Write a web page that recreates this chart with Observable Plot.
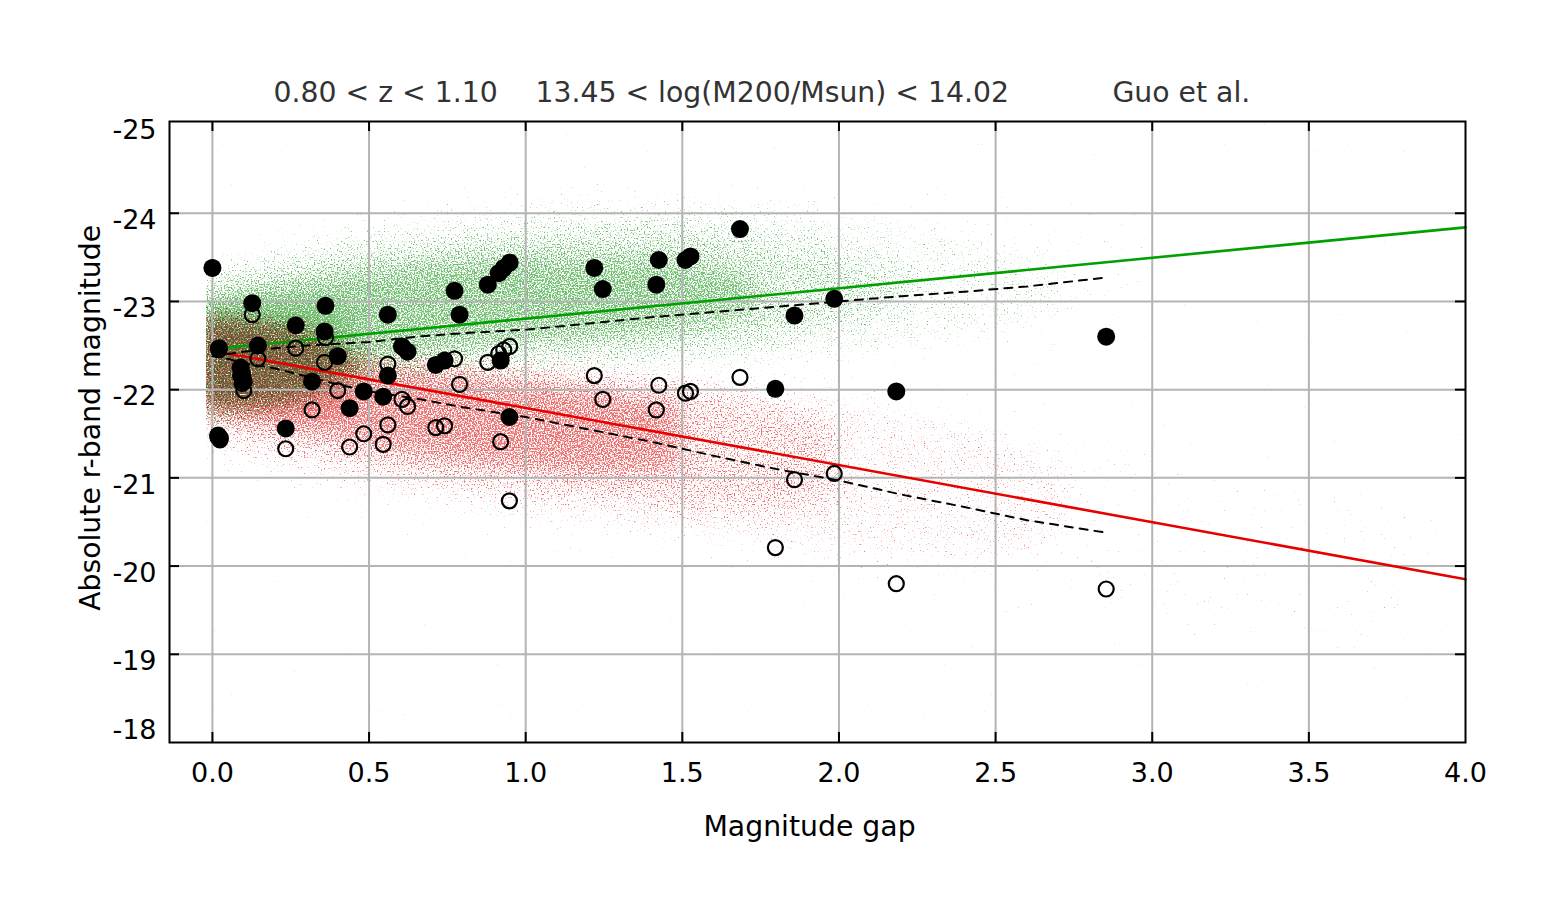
<!DOCTYPE html>
<html>
<head>
<meta charset="utf-8">
<script src="https://cdn.jsdelivr.net/npm/d3@7"></script>
<script src="https://cdn.jsdelivr.net/npm/@observablehq/plot@0.6"></script>
<style>
  body { margin: 0; background: #fff; }
  #chart { width: 1562px; height: 920px; }
</style>
</head>
<body>
<div id="chart"></div>
<script>
// ---------- data ----------
const titleLeft = "0.80 < z < 1.10";
const titleMid = "13.45 < log(M200/Msun) < 14.02";
const titleRight = "Guo et al.";
const xLabel = "Magnitude gap";
const yLabel = "Absolute r-band magnitude";

const xTicks = [0, 0.5, 1.0, 1.5, 2.0, 2.5, 3.0, 3.5, 4.0];
const yTicks = [-25, -24, -23, -22, -21, -20, -19, -18];

// observed groups: magnitude gap, brightest (filled), second brightest (open)
const gap = [0.000, 0.021, 0.018, 0.024, 0.127, 0.090, 0.095, 0.100, 0.145, 0.234,
             0.266, 0.361, 0.358, 0.318, 0.400, 0.438, 0.483, 0.545, 0.560, 0.560,
             0.605, 0.623, 0.713, 0.741, 0.773, 0.789, 0.879, 0.914, 0.930, 0.949,
             0.920, 0.948, 1.219, 1.246, 1.425, 1.417, 1.510, 1.526, 1.684, 1.797,
             1.858, 1.985, 2.183, 2.853];
const magFirst = [-23.38, -22.47, -21.48, -21.45, -22.98, -22.25, -22.17, -22.09, -22.50, -21.56,
                  -22.73, -22.95, -22.66, -22.09, -22.38, -21.79, -21.98, -21.92, -22.85, -22.16,
                  -22.49, -22.43, -22.28, -22.33, -23.12, -22.85, -23.19, -23.32, -23.38, -23.44,
                  -22.33, -21.69, -23.38, -23.14, -23.47, -23.19, -23.47, -23.51, -23.82, -22.01,
                  -22.84, -23.03, -21.98, -22.60];
const magSecond = [-23.38, -22.45, -21.46, -21.43, -22.85, -22.16, -22.07, -21.99, -22.35, -21.33,
                   -22.47, -22.59, -22.31, -21.77, -21.99, -21.35, -21.50, -21.38, -22.29, -21.60,
                   -21.89, -21.81, -21.57, -21.59, -22.35, -22.06, -22.31, -22.41, -22.45, -22.49,
                   -21.41, -20.74, -22.16, -21.89, -22.05, -21.77, -21.96, -21.98, -22.14, -20.21,
                   -20.98, -21.05, -19.80, -19.74];

// linear fits
const fitX = [0, 4.0];
const greenFit = [-22.46, -23.84];
const redFit = [-22.44, -19.85];

// binned (dashed) curves
const dashX = [0, 0.1, 0.2, 0.3, 0.4, 0.5, 0.65, 0.8, 1.0, 1.2, 1.4, 1.6, 1.8, 2.0, 2.2, 2.4, 2.6, 2.85];
const dashUpper = [-22.38, -22.43, -22.47, -22.50, -22.52, -22.54, -22.60, -22.64, -22.68, -22.75,
                   -22.82, -22.88, -22.94, -23.00, -23.06, -23.11, -23.17, -23.27];
const dashLower = [-22.40, -22.30, -22.24, -22.15, -22.06, -21.98, -21.90, -21.80, -21.69, -21.55,
                   -21.41, -21.25, -21.10, -20.97, -20.81, -20.67, -20.52, -20.38];

// model clouds: band edges per gap station (faint / outer / mid / core / peak)
const greenX = [-0.06, 0.25, 0.5, 0.75, 1.0, 1.25, 1.5, 1.75, 2.0, 2.25, 2.5, 2.75, 3.0];
const greenFaintTop = [-23.55, -23.85, -24.05, -24.2, -24.3, -24.35, -24.35, -24.3, -24.25, -24.2, -24.1, -24.0, -23.9];
const greenFaintBot = [-21.35, -21.5, -21.75, -21.9, -21.95, -22.0, -22.05, -22.1, -22.2, -22.3, -22.4, -22.5, -22.6];
const greenOuterTop = [-23.4, -23.7, -23.9, -24.0, -24.1, -24.15, -24.15, -24.1, -24.0, -23.85, -23.65, -23.35];
const greenOuterBot = [-21.5, -21.65, -21.9, -22.0, -22.05, -22.1, -22.15, -22.25, -22.35, -22.5, -22.65, -22.9];
const greenMidTop = [-23.2, -23.45, -23.6, -23.7, -23.8, -23.85, -23.85, -23.75, -23.55, -23.25];
const greenMidBot = [-21.6, -21.75, -22.05, -22.2, -22.3, -22.35, -22.4, -22.5, -22.7, -23.0];
const greenCoreTop = [-23.0, -23.2, -23.35, -23.45, -23.5, -23.5, -23.45, -23.25];
const greenCoreBot = [-21.8, -21.9, -22.3, -22.45, -22.55, -22.6, -22.7, -22.9];
const greenPeakX = [-0.06, 0.15, 0.3, 0.45];
const greenPeakTop = [-22.95, -23.0, -23.0, -22.9];
const greenPeakBot = [-21.8, -21.8, -21.85, -22.1];

const redX = [-0.06, 0.25, 0.5, 0.75, 1.0, 1.25, 1.5, 1.75, 2.0, 2.25, 2.5, 2.75, 3.0, 3.5, 4.0];
const redFaintTop = [-23.05, -23.0, -22.85, -22.75, -22.65, -22.55, -22.45, -22.3, -22.2, -22.0, -21.8, -21.6, -21.4, -21.0, -20.6];
const redFaintBot = [-21.0, -20.7, -20.5, -20.35, -20.2, -20.1, -20.0, -19.85, -19.7, -19.6, -19.5, -19.4, -19.3, -19.1, -19.0];
const redOuterTop = [-22.95, -22.85, -22.6, -22.5, -22.4, -22.3, -22.2, -22.05, -21.9, -21.7, -21.5, -21.15];
const redOuterBot = [-21.3, -21.05, -20.85, -20.7, -20.55, -20.45, -20.35, -20.25, -20.15, -20.1, -20.1, -20.3];
const redMidTop = [-22.9, -22.8, -22.45, -22.35, -22.25, -22.15, -22.05, -21.9, -21.65];
const redMidBot = [-21.55, -21.3, -21.1, -20.95, -20.85, -20.75, -20.65, -20.6, -20.7];
const redCoreTop = [-22.85, -22.7, -22.3, -22.2, -22.1, -22.0, -21.85];
const redCoreBot = [-21.8, -21.55, -21.35, -21.2, -21.1, -21.05, -21.1];
const redPeakX = [-0.06, 0.15, 0.3, 0.45];
const redPeakTop = [-22.9, -22.85, -22.75, -22.5];
const redPeakBot = [-21.75, -21.7, -21.7, -21.8];

// ---------- layout / style ----------
const W = 1562, H = 920;
const mL = 169, mR = 97, mT = 121, mB = 178;
const frameW = W - mL - mR, frameH = H - mT - mB;
const tickLen = 10;
const GREEN = "#0a9a0a", RED = "#e61414";
const GREEN_LINE = "#00a000", RED_LINE = "#e60000";

const band = (xs, top, bot) => top.map((t, i) => ({x: xs[i], top: t, bot: bot[i]}));
const series = (xs, ys) => ys.map((y, i) => ({x: xs[i], y}));
const groups = gap.map((g, i) => ({gap: g, m1: magFirst[i], m2: magSecond[i]}));

const cloud = (xs, top, bot, color, op) =>
  Plot.areaY(band(xs, top, bot), {x: "x", y1: "bot", y2: "top", fill: color, fillOpacity: op, curve: "catmull-rom", clip: false});

const xInner = xTicks.filter(v => v < 4);
const yInner = yTicks.filter(v => v > -25 && v < -18);

const chart = Plot.plot({
  width: W, height: H,
  marginLeft: mL, marginRight: mR, marginTop: mT, marginBottom: mB,
  x: {domain: [-0.137, 4.0], axis: null},
  y: {domain: [-18, -25.04], axis: null},
  style: {fontFamily: "'DejaVu Sans', sans-serif", fontSize: "27px", background: "white", color: "black"},
  marks: [
    // model clouds (density layers)
    cloud(redX, redFaintTop, redFaintBot, RED, 0.07),
    cloud(redX, redOuterTop, redOuterBot, RED, 0.10),
    cloud(redX, redMidTop, redMidBot, RED, 0.13),
    cloud(redX, redCoreTop, redCoreBot, RED, 0.17),
    cloud(redPeakX, redPeakTop, redPeakBot, RED, 0.15),
    cloud(greenX, greenFaintTop, greenFaintBot, GREEN, 0.07),
    cloud(greenX, greenOuterTop, greenOuterBot, GREEN, 0.10),
    cloud(greenX, greenMidTop, greenMidBot, GREEN, 0.13),
    cloud(greenX, greenCoreTop, greenCoreBot, GREEN, 0.17),
    cloud(greenPeakX, greenPeakTop, greenPeakBot, GREEN, 0.15),
    // grid
    Plot.ruleX(xInner, {stroke: "#b4b4b4", strokeWidth: 2}),
    Plot.ruleY(yInner, {stroke: "#b4b4b4", strokeWidth: 2}),
    // inward ticks on all four sides
    Plot.tickX(xInner, {x: d => d, insetTop: frameH - tickLen, stroke: "black", strokeWidth: 2}),
    Plot.tickX(xInner, {x: d => d, insetBottom: frameH - tickLen, stroke: "black", strokeWidth: 2}),
    Plot.tickY(yInner, {y: d => d, insetRight: frameW - tickLen, stroke: "black", strokeWidth: 2}),
    Plot.tickY(yInner, {y: d => d, insetLeft: frameW - tickLen, stroke: "black", strokeWidth: 2}),
    // fits
    Plot.line(series(fitX, greenFit), {x: "x", y: "y", stroke: GREEN_LINE, strokeWidth: 2.6}),
    Plot.line(series(fitX, redFit), {x: "x", y: "y", stroke: RED_LINE, strokeWidth: 2.6}),
    // binned curves
    Plot.line(series(dashX, dashUpper), {x: "x", y: "y", stroke: "black", strokeWidth: 2, strokeDasharray: "8,7"}),
    Plot.line(series(dashX, dashLower), {x: "x", y: "y", stroke: "black", strokeWidth: 2, strokeDasharray: "8,7"}),
    // observed groups
    Plot.dot(groups, {x: "gap", y: "m1", r: 9, fill: "black", stroke: "none"}),
    Plot.dot(groups, {x: "gap", y: "m2", r: 7.5, fill: "none", stroke: "black", strokeWidth: 2.2}),
    // frame
    Plot.frame({stroke: "black", strokeWidth: 2}),
    // tick labels
    Plot.text(xTicks, {x: d => d, text: d => d3.format(".1f")(d), frameAnchor: "bottom", dy: 31, textAnchor: "middle", lineAnchor: "middle", fill: "black"}),
    Plot.text(yInner, {y: d => d, text: d => String(d), frameAnchor: "left", dx: -13, dy: 7, textAnchor: "end", lineAnchor: "middle", fill: "black"}),
    Plot.text([yTicks[0]], {y: d => d, text: d => String(d), frameAnchor: "left", dx: -13, dy: 5, textAnchor: "end", lineAnchor: "middle", fill: "black"}),
    Plot.text([yTicks[yTicks.length - 1]], {y: d => d, text: d => String(d), frameAnchor: "left", dx: -13, dy: -12, textAnchor: "end", lineAnchor: "middle", fill: "black"}),
    // axis labels
    Plot.text([xLabel], {x: 1.906, text: d => d, frameAnchor: "bottom", dy: 84, textAnchor: "middle", lineAnchor: "middle", fontSize: 28.3, fill: "black"}),
    Plot.text([yLabel], {y: -21.68, text: d => d, frameAnchor: "left", dx: -79, rotate: -90, textAnchor: "middle", lineAnchor: "middle", fontSize: 28.3, fill: "black"}),
    // title
    Plot.text([titleLeft], {x: 0.195, text: d => d, frameAnchor: "top", dy: -29, textAnchor: "start", lineAnchor: "middle", fontSize: 28.3, fill: "#333"}),
    Plot.text([titleMid], {x: 1.031, text: d => d, frameAnchor: "top", dy: -29, textAnchor: "start", lineAnchor: "middle", fontSize: 28.3, fill: "#333"}),
    Plot.text([titleRight], {x: 2.873, text: d => d, frameAnchor: "top", dy: -29, textAnchor: "start", lineAnchor: "middle", fontSize: 28.3, fill: "#333"})
  ]
});

// ---------- render the density layers as a speckled point cloud ----------
const NS = "http://www.w3.org/2000/svg";
const svg = d3.select(chart);
const defs = svg.insert("defs", ":first-child");
// clouds only exist for gap >= 0, inside the frame
const cloudLeft = chart.scale ? Math.round(chart.scale("x").apply(0)) - 6 : mL;
defs.append("clipPath").attr("id", "cloudClip")
  .append("rect").attr("x", cloudLeft).attr("y", mT).attr("width", W - mR - cloudLeft).attr("height", frameH);
function speckFilter(id, color, seed) {
  const K = 7, b = 0.30;
  const f = defs.append("filter").attr("id", id)
    .attr("filterUnits", "userSpaceOnUse").attr("x", 0).attr("y", 0).attr("width", W).attr("height", H)
    .attr("color-interpolation-filters", "sRGB");
  f.append("feGaussianBlur").attr("in", "SourceGraphic").attr("stdDeviation", 13).attr("result", "dens");
  f.append("feTurbulence").attr("type", "fractalNoise").attr("baseFrequency", 0.7)
    .attr("numOctaves", 1).attr("seed", seed).attr("result", "noise");
  f.append("feComposite").attr("in", "dens").attr("in2", "noise").attr("operator", "arithmetic")
    .attr("k1", 0).attr("k2", K).attr("k3", -K).attr("k4", K * (0.5 - b)).attr("result", "mask");
  f.append("feFlood").attr("flood-color", color).attr("flood-opacity", 0.7).attr("result", "col");
  f.append("feComposite").attr("in", "col").attr("in2", "mask").attr("operator", "in");
}
speckFilter("speckRed", "#e43434", 11);
speckFilter("speckGreen", "#38a638", 29);

const areaNodes = svg.selectAll('g[aria-label="area"]').nodes();
if (areaNodes.length) {
  const first = areaNodes[0];
  const clipG = document.createElementNS(NS, "g");
  first.parentNode.insertBefore(clipG, first);
  clipG.setAttribute("clip-path", "url(#cloudClip)");
  const wrapRed = document.createElementNS(NS, "g");
  const wrapGreen = document.createElementNS(NS, "g");
  clipG.appendChild(wrapRed);
  clipG.appendChild(wrapGreen);
  for (const n of areaNodes) {
    const fill = (n.getAttribute("fill") || (n.firstChild && n.firstChild.getAttribute && n.firstChild.getAttribute("fill")) || "").toLowerCase();
    (fill === RED.toLowerCase() ? wrapRed : wrapGreen).appendChild(n);
  }
  wrapRed.setAttribute("filter", "url(#speckRed)");
  wrapGreen.setAttribute("filter", "url(#speckGreen)");
  wrapGreen.style.mixBlendMode = "multiply";
}

document.getElementById("chart").appendChild(chart);
</script>
</body>
</html>
